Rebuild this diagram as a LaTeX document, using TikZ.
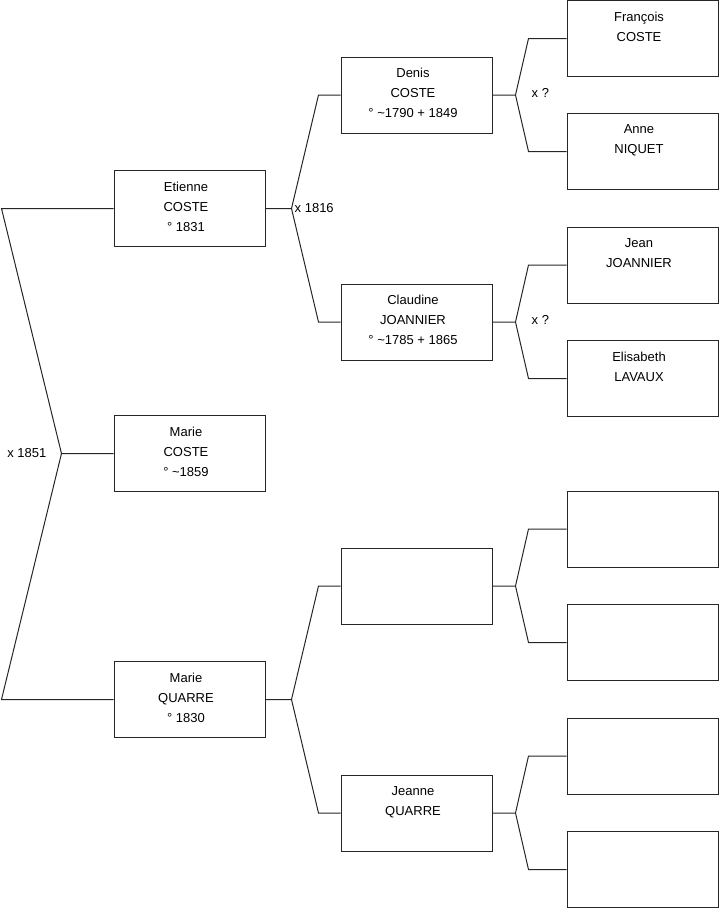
\documentclass[tikz,border=0pt]{standalone}
\usepackage{fontspec}
\setmainfont{Liberation Sans}
\usetikzlibrary{positioning,calc}

\begin{document}
\begin{tikzpicture}[
  x=1pt, y=-1pt,
  font=\fontsize{13}{20}\selectfont,
  person/.style={draw=black!85, line width=1pt, minimum width=151pt, minimum height=76pt, inner sep=0pt},
  who/.style={inner sep=0pt, align=center, xshift=-3.5pt},
  union/.style={inner sep=0pt},
  link/.style={draw=black!85, line width=1pt},
]
  \useasboundingbox (0,0) rectangle (719,908);

  % child and parents
  \node[person] (etienne) at (189.5,208.5) {};
  \node[person] (mcoste)  at (189.5,453.5) {};
  \node[person] (mquarre) at (189.5,699.5) {};
  \node[who, below=11.5pt of etienne.north] (etienne-t) {Etienne\\COSTE\\° 1831};
  \node[who, below=11.5pt of mcoste.north] (mcoste-t) {Marie\\COSTE\\° \textasciitilde1859};
  \node[who, below=11.5pt of mquarre.north] (mquarre-t) {Marie\\QUARRE\\° 1830};

  % grandparents
  \node[person] (denis)    at (416.5,95) {};
  \node[person] (claudine) at (416.5,322) {};
  \node[person] (pquarre)  at (416.5,586) {};
  \node[person] (jeanne)   at (416.5,813) {};
  \node[who, below=11.5pt of denis.north] (denis-t) {Denis\\COSTE\\° \textasciitilde1790 + 1849};
  \node[who, below=11.5pt of claudine.north] (claudine-t) {Claudine\\JOANNIER\\° \textasciitilde1785 + 1865};
  \node[who, below=11.5pt of jeanne.north] (jeanne-t) {Jeanne\\QUARRE};

  % great-grandparents
  \foreach \k/\y in {1/38.5, 2/151.5, 3/265, 4/378.5, 5/529, 6/642.5, 7/756, 8/869.5}
    \node[person] (a\k) at (642.5,\y) {};
  \node[who, below=11.5pt of a1.north] (a1-t) {François\\COSTE};
  \node[who, below=11.5pt of a2.north] (a2-t) {Anne\\NIQUET};
  \node[who, below=11.5pt of a3.north] (a3-t) {Jean\\JOANNIER};
  \node[who, below=11.5pt of a4.north] (a4-t) {Elisabeth\\LAVAUX};

  % parents of mcoste
  \coordinate[left=52pt of mcoste.west] (f0);
  \draw[link] (mcoste.west) -- (f0) -- ([xshift=-112pt]etienne.west) -- (etienne.west);
  \draw[link] (f0) -- ([xshift=-112pt]mquarre.west) -- (mquarre.west);
  \node[union, left=15pt of f0] (u0) {x 1851};

  % parents of etienne and mquarre
  \foreach \c/\p/\m/\f in {etienne/denis/claudine/f1, mquarre/pquarre/jeanne/f2} {
    \coordinate[right=26pt of \c.east] (\f);
    \draw[link] (\c.east) -- (\f) -- ([xshift=-22pt]\p.west) -- (\p.west);
    \draw[link] (\f) -- ([xshift=-22pt]\m.west) -- (\m.west);
  }
  \node[union, right=3pt of f1] (u1) {x 1816};

  % parents of the grandparents
  \foreach \c/\p/\m/\f in {denis/a1/a2/f3, claudine/a3/a4/f4, pquarre/a5/a6/f5, jeanne/a7/a8/f6} {
    \coordinate[right=23pt of \c.east] (\f);
    \draw[link] (\c.east) -- (\f) -- ([xshift=-38pt]\p.west) -- (\p.west);
    \draw[link] (\f) -- ([xshift=-38pt]\m.west) -- (\m.west);
  }
  \node[union, right=16pt of f3, yshift=2pt] (u3) {x ?};
  \node[union, right=16pt of f4, yshift=2pt] (u4) {x ?};
\end{tikzpicture}
\end{document}
